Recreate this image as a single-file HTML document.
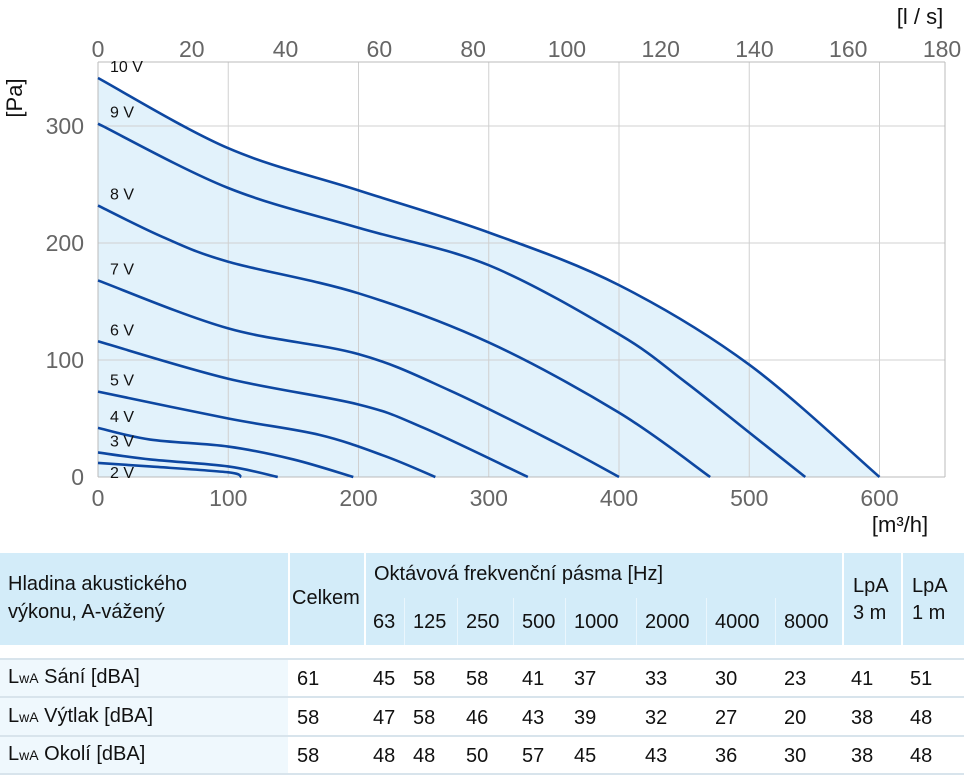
<!DOCTYPE html>
<html><head><meta charset="utf-8"><style>
body{margin:0;width:964px;height:775px;background:#fff;font-family:"Liberation Sans",sans-serif;overflow:hidden;position:relative}
.t{position:absolute;font-size:20px;color:#111;white-space:nowrap}
</style></head><body>
<svg width="964" height="540" style="position:absolute;left:0;top:0" id="ch" font-family="Liberation Sans, sans-serif"></svg>
<div id="tb"></div>
<script>
const xTicks=[0,100,200,300,400,500,600];
const yTicks=[0,100,200,300];
const topTicks=[0,20,40,60,80,100,120,140,160,180];
const curveNames=["10 V","9 V","8 V","7 V","6 V","5 V","4 V","3 V","2 V"];
const cx=[[0,100,200,300,400,500,600],[0,100,200,300,400,450,500,543],[0,50,100,200,300,400,470],[0,100,200,270,350,400],[0,100,200,250,330],[0,100,170,220,259],[0,40,100,150,196],[0,40,100,138],[0,40,100,110]];
const cy=[[341,281,245,209,164,96,0],[302,247,213,181,122,82,38,0],[232,205,184,157,115,55,0],[168,127,105,74,30,0],[116,84,62,42,0],[73,50,36,18,0],[42,32,26,15,0],[21,15,9,0],[12,9,4,0]];
const labelY=[341,302,232,168,116,73,42,21,12];
const X=v=>98+v*1.3025, Y=v=>477-v*1.17, XL=v=>98+v*3.6*1.3025;
const svg=document.getElementById('ch');const NS='http://www.w3.org/2000/svg';
function mk(t,a,p){const e=document.createElementNS(NS,t);for(const k in a)e.setAttribute(k,a[k]);(p||svg).appendChild(e);return e;}
function smooth(pts){let d='M'+pts[0][0]+','+pts[0][1];for(let i=0;i<pts.length-1;i++){const p0=pts[i-1]||pts[i],p1=pts[i],p2=pts[i+1],p3=pts[i+2]||p2;d+=' C'+(p1[0]+(p2[0]-p0[0])/6)+','+(p1[1]+(p2[1]-p0[1])/6)+' '+(p2[0]-(p3[0]-p1[0])/6)+','+(p2[1]-(p3[1]-p1[1])/6)+' '+p2[0]+','+p2[1];}return d;}
const P=cx.map((a,i)=>a.map((v,j)=>[X(v),Y(cy[i][j])]));
let area=mk('path',{d:smooth(P[0])+' L'+X(0)+','+Y(0)+' Z',fill:'#e2f2fb'});


xTicks.forEach(v=>{if(v>0){const l=mk('line',{x1:X(v),x2:X(v),y1:62,y2:477,stroke:'#d0d0d0'});}
const t=mk('text',{x:X(v),y:506,'text-anchor':'middle','font-size':23,fill:'#666'});t.textContent=v;});
yTicks.forEach(v=>{if(v>0){const l=mk('line',{x1:98,x2:945,y1:Y(v),y2:Y(v),stroke:'#d0d0d0'});}
const t=mk('text',{x:84,y:Y(v)+8,'text-anchor':'end','font-size':23,fill:'#666'});t.textContent=v;});
topTicks.forEach(v=>{const t=mk('text',{x:XL(v),y:57,'text-anchor':'middle','font-size':23,fill:'#666'});t.textContent=v;});
mk('line',{x1:98,x2:945,y1:477,y2:477,stroke:'#bbb'});mk('line',{x1:98,x2:945,y1:62,y2:62,stroke:'#bbb'});
mk('line',{x1:98,x2:98,y1:62,y2:477,stroke:'#bbb'});mk('line',{x1:945,x2:945,y1:62,y2:477,stroke:'#bbb'});
P.forEach((p,i)=>{const c=mk('path',{d:smooth(p),fill:'none',stroke:'#0d47a1','stroke-width':2.6});
const ly=i===8?Y(labelY[i])+15:Y(labelY[i])-6;
const t=mk('text',{x:110,y:ly,'font-size':16,fill:'#111'});t.textContent=curveNames[i];});
let a=mk('text',{x:900,y:532,'font-size':22,fill:'#111','text-anchor':'middle'});a.textContent='[m³/h]';
a=mk('text',{x:920,y:24,'font-size':22,fill:'#111','text-anchor':'middle'});a.textContent='[l / s]';
a=mk('text',{x:0,y:0,'font-size':22,fill:'#111','text-anchor':'middle',transform:'translate(22,98) rotate(-90)'});a.textContent='[Pa]';
// table
const cols=[289,365,405,458,514,566,637,707,776,843,902,964];
const freqs=["63","125","250","500","1000","2000","4000","8000"];
const rowLabels=["Sání [dBA]","Výtlak [dBA]","Okolí [dBA]"];
const rowVals=[[61,45,58,58,41,37,33,30,23,41,51],[58,47,58,46,43,39,32,27,20,38,48],[58,48,48,50,57,45,43,36,30,38,48]];
const tb=document.getElementById('tb');let h='';
const bx=(x,y,w,hh,bg,n)=>`<div style="position:absolute;left:${x}px;top:${y}px;width:${w}px;height:${hh}px;background:${bg}"></div>`;
h+=bx(0,553,288,92,'#d3ecf9','header-label-cell');h+=bx(290,553,74,92,'#d3ecf9','header-celkem-cell');h+=bx(366,553,476,92,'#d3ecf9','header-octave-cell');h+=bx(844,553,57,92,'#d3ecf9','header-lpa3');h+=bx(903,553,61,92,'#d3ecf9','header-lpa1');
h+=bx(0,658,288,117,'#eff8fd','row-label-bg');
[658,696,735,773].forEach(y=>h+=bx(0,y,964,1.5,'#d8e4ec','row-line'));
h+=`<div class="t" style="left:8px;top:570px;line-height:28px">Hladina akustického<br>výkonu, A-vážený</div>`;
h+=`<div class="t" style="left:292px;top:587px">Celkem</div>`;
h+=`<div class="t" style="left:374px;top:563px">Oktávová frekvenční pásma [Hz]</div>`;
h+=`<div class="t" style="left:853px;top:573px;line-height:27px">LpA<br>3 m</div>`;
h+=`<div class="t" style="left:912px;top:573px;line-height:27px">LpA<br>1 m</div>`;
freqs.forEach((f,i)=>{if(i>0)h+=bx(cols[i+1]-1,598,1,47,'#eaf6fd','freq-divider');h+=`<div class="t" style="left:${cols[i+1]+8}px;top:611px">${f}</div>`;});
rowLabels.forEach((l,r)=>{const y=666+r*38.5;h+=`<div class="t" style="left:8px;top:${y}px">L<span style="font-size:14px">wA</span> ${l}</div>`;
rowVals[r].forEach((v,i)=>{h+=`<div class="t" style="left:${cols[i]+8}px;top:${y+2}px">${v}</div>`;});});
tb.innerHTML=h;
</script>
</body></html>
